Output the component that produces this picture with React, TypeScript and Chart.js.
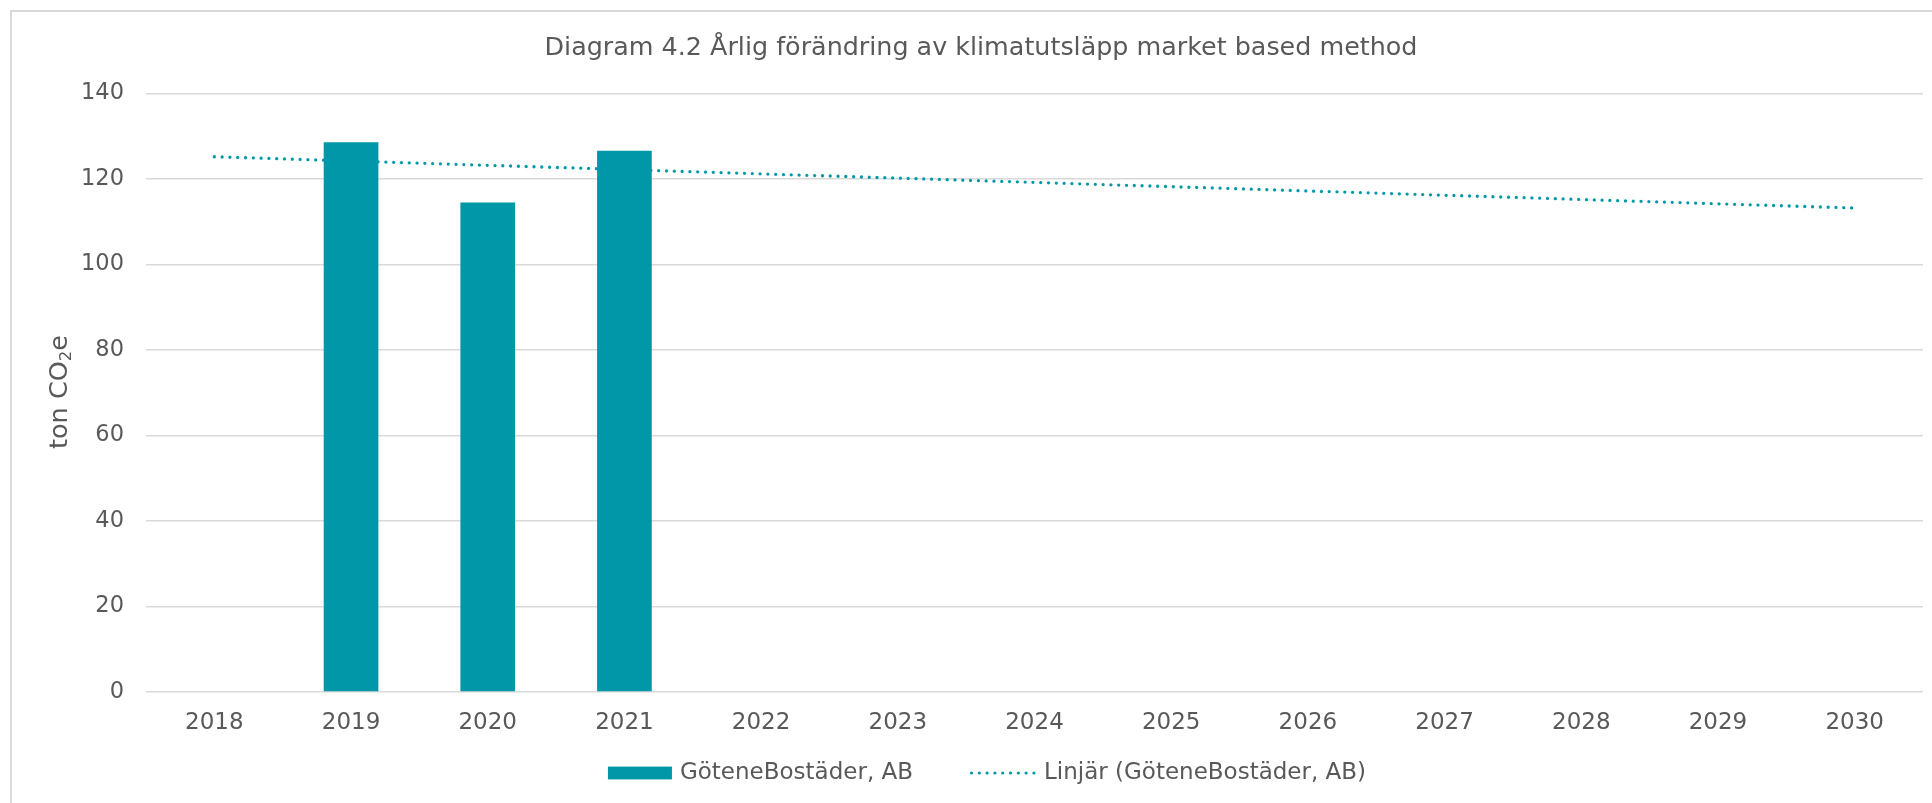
import React, { useEffect, useRef } from "react";
import { Chart, registerables } from "chart.js";

Chart.register(...registerables);

const TITLE = "Diagram 4.2 Årlig förändring av klimatutsläpp market based method";
// y-axis title pieces: "ton CO" + subscript "2" + "e"
const Y_TITLE_MAIN = "ton CO";
const Y_TITLE_SUB = "2";
const Y_TITLE_END = "e";
const CATEGORIES = ["2018", "2019", "2020", "2021", "2022", "2023", "2024", "2025", "2026", "2027", "2028", "2029", "2030"];
const BAR_LABEL = "GöteneBostäder, AB";
const BAR_VALUES: (number | null)[] = [null, 128.6, 114.5, 126.6, null, null, null, null, null, null, null, null, null];
const TREND_LABEL = "Linjär (GöteneBostäder, AB)";
const TREND_VALUES: (number | null)[] = [125.2, null, null, null, null, null, null, null, null, null, null, null, 113.2];
const Y_MIN = 0;
const Y_MAX = 140;
const Y_STEP = 20;

const TEAL = "#0098A8";
const TEXT = "#595959";
const GRID = "#D9D9D9";
const FONT = "'DejaVu Sans', Verdana, sans-serif";

const framePlugin = {
  id: "frame",
  beforeDraw(chart: any) {
    const ctx = chart.ctx;
    ctx.save();
    ctx.fillStyle = "#ffffff";
    ctx.fillRect(0, 0, chart.width, chart.height);
    ctx.strokeStyle = GRID;
    ctx.lineWidth = 2;
    ctx.strokeRect(11, 11, chart.width + 20, chart.height + 20);
    ctx.restore();
  },
};

const yTitlePlugin = {
  id: "yTitle",
  afterDraw(chart: any) {
    const ctx = chart.ctx;
    const size = 25.5;
    const subSize = size * 0.65;
    ctx.save();
    ctx.fillStyle = TEXT;
    ctx.textBaseline = "alphabetic";
    ctx.textAlign = "left";
    ctx.font = `${size}px ${FONT}`;
    const wMain = ctx.measureText(Y_TITLE_MAIN).width;
    const wEnd = ctx.measureText(Y_TITLE_END).width;
    ctx.font = `${subSize}px ${FONT}`;
    const wSub = ctx.measureText(Y_TITLE_SUB).width;
    const total = wMain + wSub + wEnd;
    const cx = 58;
    const cy = 392;
    ctx.translate(cx, cy);
    ctx.rotate(-Math.PI / 2);
    const baseY = size * 0.36;
    let x = -total / 2;
    ctx.font = `${size}px ${FONT}`;
    ctx.fillText(Y_TITLE_MAIN, x, baseY);
    x += wMain;
    ctx.font = `${subSize}px ${FONT}`;
    ctx.fillText(Y_TITLE_SUB, x, baseY + size * 0.16);
    x += wSub;
    ctx.font = `${size}px ${FONT}`;
    ctx.fillText(Y_TITLE_END, x, baseY);
    ctx.restore();
  },
};

const legendPlugin = {
  id: "customLegend",
  afterDraw(chart: any) {
    const ctx = chart.ctx;
    const ds = chart.data.datasets;
    ctx.save();
    ctx.font = `23px ${FONT}`;
    ctx.fillStyle = TEXT;
    ctx.textBaseline = "middle";
    const t1 = ds[0].label;
    const t2 = ds[1].label;
    const w1 = ctx.measureText(t1).width;
    const w2 = ctx.measureText(t2).width;
    const sw = 64, gapT = 8, gapItem = 57, lw = 66, gapT2 = 8;
    const total = sw + gapT + w1 + gapItem + lw + gapT2 + w2;
    const cx = 987;
    const cy = 773;
    let x = cx - total / 2;
    ctx.fillStyle = ds[0].backgroundColor;
    ctx.fillRect(x, cy - 6.4, sw, 12.8);
    x += sw + gapT;
    ctx.fillStyle = TEXT;
    ctx.textAlign = "left";
    ctx.fillText(t1, x, cy);
    x += w1 + gapItem;
    ctx.strokeStyle = ds[1].borderColor;
    ctx.lineWidth = 3.2;
    ctx.lineCap = "round";
    ctx.setLineDash([0, 7.8]);
    ctx.beginPath();
    ctx.moveTo(x + 1.5, cy);
    ctx.lineTo(x + lw - 1, cy);
    ctx.stroke();
    ctx.setLineDash([]);
    x += lw + gapT2;
    ctx.fillText(t2, x, cy);
    ctx.restore();
  },
};

export default function App() {
  const ref = useRef<HTMLCanvasElement | null>(null);
  useEffect(() => {
    if (!ref.current) return;
    const chart = new Chart(ref.current, {
      type: "bar",
      data: {
        labels: CATEGORIES,
        datasets: [
          {
            type: "bar",
            label: BAR_LABEL,
            data: BAR_VALUES,
            backgroundColor: TEAL,
            borderWidth: 0,
            barPercentage: 0.4,
            categoryPercentage: 1,
            order: 2,
          },
          {
            type: "line",
            label: TREND_LABEL,
            data: TREND_VALUES,
            borderColor: TEAL,
            backgroundColor: TEAL,
            borderWidth: 3.3,
            borderDash: [0, 7.8],
            borderCapStyle: "round",
            pointRadius: 0,
            spanGaps: true,
            fill: false,
            order: 1,
          } as any,
        ],
      },
      options: {
        responsive: false,
        animation: false,
        layout: { padding: { left: 39, right: 9, top: 0, bottom: 41 } },
        plugins: {
          legend: { display: false },
          tooltip: { enabled: false },
          title: {
            display: true,
            text: TITLE,
            color: TEXT,
            font: { family: FONT, size: 25.4, weight: "normal", lineHeight: 1.2 },
            padding: { top: 33, bottom: 30 },
          },
        },
        scales: {
          x: {
            grid: { display: false, drawTicks: false },
            border: { display: false },
            ticks: { color: TEXT, font: { family: FONT, size: 23 }, padding: 17 },
            afterFit: (s: any) => { s.height = 70; },
          },
          y: {
            min: Y_MIN,
            max: Y_MAX,
            ticks: { stepSize: Y_STEP, color: TEXT, font: { family: FONT, size: 22.5 }, padding: 22 },
            grid: { color: GRID, lineWidth: 1.5, drawTicks: false },
            border: { display: false },
            title: { display: false },
            afterFit: (s: any) => { s.width = 107; },
          },
        },
      },
      plugins: [framePlugin, yTitlePlugin, legendPlugin],
    });
    return () => chart.destroy();
  }, []);
  return (
    <div style={{ position: "absolute", left: 0, top: 0, width: 1932, height: 803 }}>
      <canvas ref={ref} width={1932} height={803} style={{ display: "block" }} />
    </div>
  );
}
